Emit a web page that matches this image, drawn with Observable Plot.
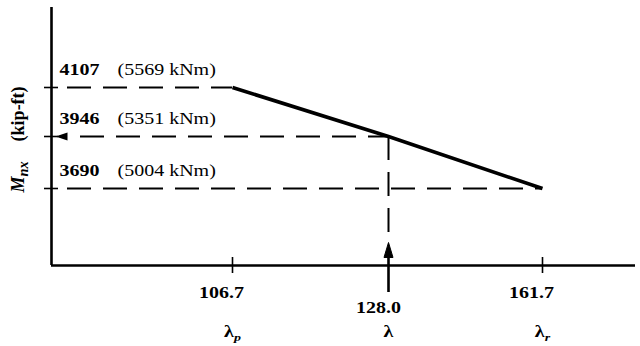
<!DOCTYPE html>
<html><head><meta charset="utf-8">
<script src="https://cdn.jsdelivr.net/npm/d3@7"></script>
<script src="https://cdn.jsdelivr.net/npm/@observablehq/plot@0.6"></script>
<style>html,body{margin:0;padding:0;background:#fff;}</style>
</head><body><div id="chart"></div>
<script>
// ---- data ----
const slenderness = [106.7, 128.0, 161.7];          // λp, λ, λr
const slenderLabels = ["λ_{p}", "λ", "λ_{r}"];
const tickLabels = ["106.7", "128.0", "161.7"];
const momentKipFt = [4107, 3946, 3690];
const momentLabels = ["4107", "3946", "3690"];
const kNmLabels = ["(5569 kNm)", "(5351 kNm)", "(5004 kNm)"];
const lambdaActual = 128.0;
const momentActual = 3946;
const xAxisExtent = [80, 180];     // schematic axis ends
const yAxisExtent = [3400, 4450];
const yTitle = "M_{nx}  (kip-ft)";

const pts = slenderness.map((x, i) => ({
  x, y: momentKipFt[i], label: momentLabels[i], knm: kNmLabels[i],
  tick: tickLabels[i], lam: slenderLabels[i]
}));
const x0 = xAxisExtent[0], x1 = xAxisExtent[1];
const y0 = yAxisExtent[0], y1 = yAxisExtent[1];

// schematic (not-to-scale) piecewise scales
const xDomain = [x0, ...slenderness, x1];
const yDomain = [y0, ...momentKipFt.slice().reverse(), y1];

const leftHead = {draw(ctx) { ctx.moveTo(0, 0); ctx.lineTo(12, -4); ctx.lineTo(12, 4); ctx.closePath(); }};
const upHead = {draw(ctx) { ctx.moveTo(0, 0); ctx.lineTo(-4.5, 15); ctx.lineTo(4.5, 15); ctx.closePath(); }};
const dash = "24,12";

const chart = Plot.plot({
  width: 640, height: 346,
  marginLeft: 51, marginRight: 5, marginTop: 7, marginBottom: 81,
  x: {type: "linear", domain: xDomain, range: [51, 232, 388, 542, 635], axis: null},
  y: {type: "linear", domain: yDomain, range: [265, 188, 136, 87, 7], axis: null},
  style: {fontFamily: "'Liberation Serif', 'Times New Roman', serif", background: "white", color: "black"},
  marks: [
    // axes
    Plot.ruleX([x0], {y1: y0, y2: y1, strokeWidth: 2.6}),
    Plot.ruleY([y0], {x1: x0, x2: x1, strokeWidth: 2.4}),
    // tick marks crossing the axes
    Plot.ruleX(slenderness.filter(d => d !== lambdaActual), {y1: y0, y2: y0, insetTop: -8, insetBottom: -8, strokeWidth: 1.6}),
    Plot.ruleY(momentKipFt, {x1: x0, x2: x0, insetLeft: -7, insetRight: -7, strokeWidth: 1.6}),
    // dashed projection lines
    Plot.ruleY(pts.filter(d => d.y !== momentActual), {y: "y", x1: x0, x2: "x", insetLeft: 16, strokeWidth: 2, strokeDasharray: dash}),
    Plot.ruleY(pts.filter(d => d.y === momentActual), {y: "y", x1: x0, x2: "x", insetLeft: 29, strokeWidth: 2, strokeDasharray: dash}),
    Plot.ruleX([lambdaActual], {y1: momentActual, y2: y0, insetBottom: 25, strokeWidth: 2, strokeDasharray: dash}),
    // arrow on the moment axis
    Plot.dot([momentActual], {x: () => x0, y: d => d, dx: 4, symbol: leftHead, fill: "black", stroke: "none"}),
    // arrow at λ
    Plot.ruleX([lambdaActual], {y1: y0, y2: y0, insetTop: -12, insetBottom: -27, strokeWidth: 2.6}),
    Plot.dot([lambdaActual], {x: d => d, y: () => y0, dy: -23, symbol: upHead, fill: "black", stroke: "black", strokeWidth: 1}),
    // M_n vs λ line
    Plot.line(pts, {x: "x", y: "y", strokeWidth: 3.6, strokeLinecap: "butt"}),
    // labels
    Plot.text(pts, {x: () => x0, y: "y", text: "label", textAnchor: "start", lineAnchor: "bottom", dx: 8, dy: -13, fontWeight: "bold", fontSize: 16}),
    Plot.text(pts, {x: () => x0, y: "y", text: "knm", textAnchor: "start", lineAnchor: "bottom", dx: 66, dy: -13, fontSize: 16}),
    Plot.text(pts.filter(d => d.x !== lambdaActual), {x: "x", y: () => y0, text: "tick", lineAnchor: "bottom", dx: -11, dy: 32, fontWeight: "bold", fontSize: 16}),
    Plot.text(pts.filter(d => d.x === lambdaActual), {x: "x", y: () => y0, text: "tick", lineAnchor: "bottom", dx: -10, dy: 47, fontWeight: "bold", fontSize: 16}),
    Plot.text(pts, {x: "x", y: () => y0, text: "lam", lineAnchor: "bottom", dy: 71, fontWeight: "bold", fontSize: 16}),
    Plot.text([yTitle], {frameAnchor: "left", text: d => d, rotate: -90, textAnchor: "middle", dx: -33, dy: 3, fontWeight: "bold", fontSize: 18})
  ]
});
document.getElementById("chart").appendChild(chart);

// subscripts (_{...}) and horizontal stretch of the scanned serif type
chart.querySelectorAll("text").forEach(t => {
  const s = t.textContent;
  const tr = t.getAttribute("transform") || "";
  const rotated = tr.includes("rotate");
  if (s.includes("_{")) {
    const parts = s.split(/_\{([^}]*)\}/);
    t.textContent = "";
    let prevSub = false;
    parts.forEach((p, i) => {
      if (p === "") return;
      const sp = document.createElementNS("http://www.w3.org/2000/svg", "tspan");
      const isSub = i % 2 === 1;
      if (isSub) {
        sp.setAttribute("font-size", rotated ? "0.8em" : "0.7em");
        sp.setAttribute("dy", "4");
        sp.setAttribute("font-style", "italic");
        sp.textContent = p;
      } else {
        const trimmed = p.replace(/^\s+/, "");
        if (prevSub) sp.setAttribute("dy", "-4");
        if (trimmed.length !== p.length) sp.setAttribute("dx", rotated ? "20" : "4");
        if (rotated && i === 0) sp.setAttribute("font-style", "italic");
        sp.textContent = trimmed;
      }
      prevSub = isSub;
      t.appendChild(sp);
    });
  }
  if (!rotated) t.setAttribute("transform", tr + " scale(1.25,1)");
});
</script>
</body></html>
